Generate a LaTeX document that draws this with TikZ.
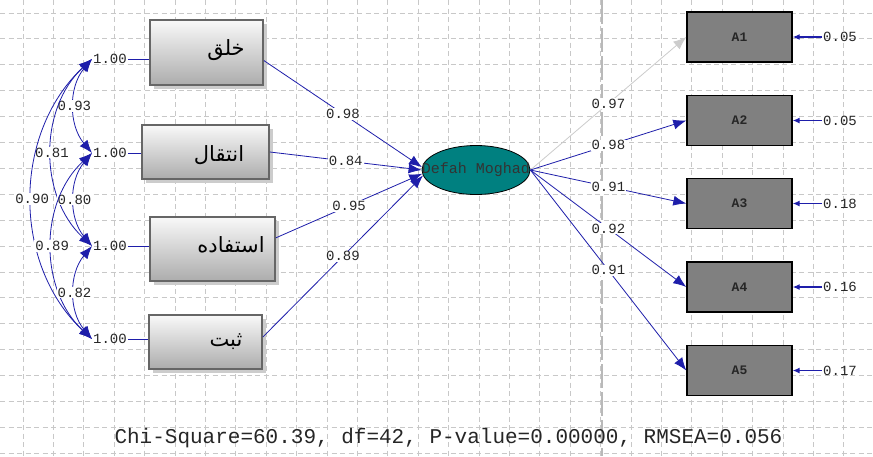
\documentclass[tikz,border=0pt]{standalone}
\usepackage{fontspec}
\setmonofont{Liberation Mono}
\newfontfamily\arabicfont[Script=Arabic]{DejaVu Sans}
\TeXXeTstate=1
\usetikzlibrary{arrows.meta,shapes.geometric,shadows}
\definecolor{lisblue}{RGB}{30,30,170}
\definecolor{listeal}{RGB}{0,128,128}
\definecolor{obsgray}{RGB}{128,128,128}
\definecolor{gridgray}{RGB}{200,200,200}
\begin{document}
\begin{tikzpicture}[x=1pt, y=-1pt,
    every node/.style={font=\ttfamily\fontsize{14}{16}\selectfont, text=black!85},
    gridline/.style={draw=gridgray, line width=0.9pt, dash pattern=on 5pt off 3.5pt},
    varbox/.style={draw=black!60, line width=1.8pt, top color=gray!5, bottom color=gray!65,
        drop shadow={shadow xshift=4pt, shadow yshift=-4pt, fill=gray!40, opacity=1}},
    farsi/.style={font=\arabicfont\fontsize{21}{25}\selectfont, text=black},
    obsbox/.style={draw=black, line width=1.4pt, fill=obsgray, minimum width=105pt, minimum height=50pt,
        font=\ttfamily\bfseries\fontsize{13}{15}\selectfont},
    latent/.style={ellipse, draw=black, line width=0.8pt, fill=listeal, minimum width=108pt, minimum height=49pt},
    coef/.style={fill=white, inner sep=1pt},
    load/.style={draw=lisblue, line width=0.8pt, -{Latex[length=13pt,width=10pt]}},
    cov/.style={draw=lisblue, line width=0.8pt, {Latex[length=13pt,width=10pt]}-{Latex[length=13pt,width=10pt]}},
    err/.style={draw=lisblue, line width=1.2pt, -{Latex[length=7pt,width=6pt]}}]
    \useasboundingbox[fill=white] (0,0) rectangle (873,456);

    % grid
    \foreach \gx in {0,...,28}
        \draw[gridline] (23+30.4*\gx,0) -- (23+30.4*\gx,456);
    \foreach \gy in {0,...,17}
        \draw[gridline] (0,13+25.9*\gy) -- (873,13+25.9*\gy);
    \draw[draw=gray!55, line width=1.2pt, dash pattern=on 24pt off 4pt] (602,0) -- (602,456);

    % observed variables, left
    \node[varbox, minimum width=113pt, minimum height=65pt] (b1) at (206.5,52.5) {};
    \node[varbox, minimum width=127pt, minimum height=54pt] (b2) at (205.5,152) {};
    \node[varbox, minimum width=125pt, minimum height=64pt] (b3) at (212.5,249) {};
    \node[varbox, minimum width=113pt, minimum height=54pt] (b4) at (205.5,342) {};
    \node[farsi] (t1) at (226,50) {\beginR خلق\endR};
    \node[farsi] (t2) at (219,155) {\beginR انتقال\endR};
    \node[farsi] (t3) at (231,245) {\beginR استفاده\endR};
    \node[farsi] (t4) at (226,342) {\beginR ثبت\endR};

    \node[inner sep=1pt] (v1) at (110,59) {1.00};
    \node[inner sep=1pt] (v2) at (110,153) {1.00};
    \node[inner sep=1pt] (v3) at (110,246) {1.00};
    \node[inner sep=1pt] (v4) at (110,339) {1.00};
    \draw[lisblue, line width=0.8pt] (v1.east) -- (v1.east -| b1.west);
    \draw[lisblue, line width=0.8pt] (v2.east) -- (v2.east -| b2.west);
    \draw[lisblue, line width=0.8pt] (v3.east) -- (v3.east -| b3.west);
    \draw[lisblue, line width=0.8pt] (v4.east) -- (v4.east -| b4.west);

    % correlations
    \draw[cov] (v1.west) to[bend right=40] node[coef]{0.93} (v2.west);
    \draw[cov] (v1.west) to[bend right=47] node[coef]{0.81} (v3.west);
    \draw[cov] (v1.west) to[bend right=47] node[coef]{0.90} (v4.west);
    \draw[cov] (v2.west) to[bend right=40] node[coef]{0.80} (v3.west);
    \draw[cov] (v2.west) to[bend right=47] node[coef]{0.89} (v4.west);
    \draw[cov] (v3.west) to[bend right=40] node[coef]{0.82} (v4.west);

    % latent variable
    \node[latent] (lat) at (476,170) {};
    \node[font=\ttfamily\fontsize{15}{17}\selectfont, text=black!80] (latname) at (lat) {Defah Moghad};

    \draw[load] (b1.-8) -- node[coef]{0.98} (lat.177);
    \draw[load] (b2.east) -- node[coef]{0.84} (lat.180);
    \draw[load] (b3.10) -- node[coef]{0.95} (lat.184);
    \draw[load] (b4.5) -- node[coef]{0.89} (lat.186);

    % observed variables, right
    \node[obsbox] (a1) at (739.5,37) {A1};
    \node[obsbox] (a2) at (739.5,120.5) {A2};
    \node[obsbox] (a3) at (739.5,203.5) {A3};
    \node[obsbox] (a4) at (739.5,287) {A4};
    \node[obsbox] (a5) at (739.5,370.5) {A5};

    \draw[load, draw=gray!40] (lat.east) -- node[coef]{0.97} (a1.west);
    \draw[load] (lat.east) -- node[coef]{0.98} (a2.west);
    \draw[load] (lat.east) -- node[coef]{0.91} (a3.west);
    \draw[load] (lat.east) -- node[coef]{0.92} (a4.west);
    \draw[load] (lat.east) -- node[coef]{0.91} (a5.west);

    \node[inner sep=1pt] (e1) at (840,37) {0.05};
    \node[inner sep=1pt] (e2) at (840,120.5) {0.05};
    \node[inner sep=1pt] (e3) at (840,203.5) {0.18};
    \node[inner sep=1pt] (e4) at (840,287) {0.16};
    \node[inner sep=1pt] (e5) at (840,370.5) {0.17};
    \draw[err] (e1.west) -- (a1.east);
    \draw[err] (e2.west) -- (a2.east);
    \draw[err] (e3.west) -- (a3.east);
    \draw[err] (e4.west) -- (a4.east);
    \draw[err] (e5.west) -- (a5.east);

    \node[font=\ttfamily\fontsize{21}{24}\selectfont] (stats) at (448.5,438)
        {Chi-Square=60.39, df=42, P-value=0.00000, RMSEA=0.056};
\end{tikzpicture}
\end{document}
